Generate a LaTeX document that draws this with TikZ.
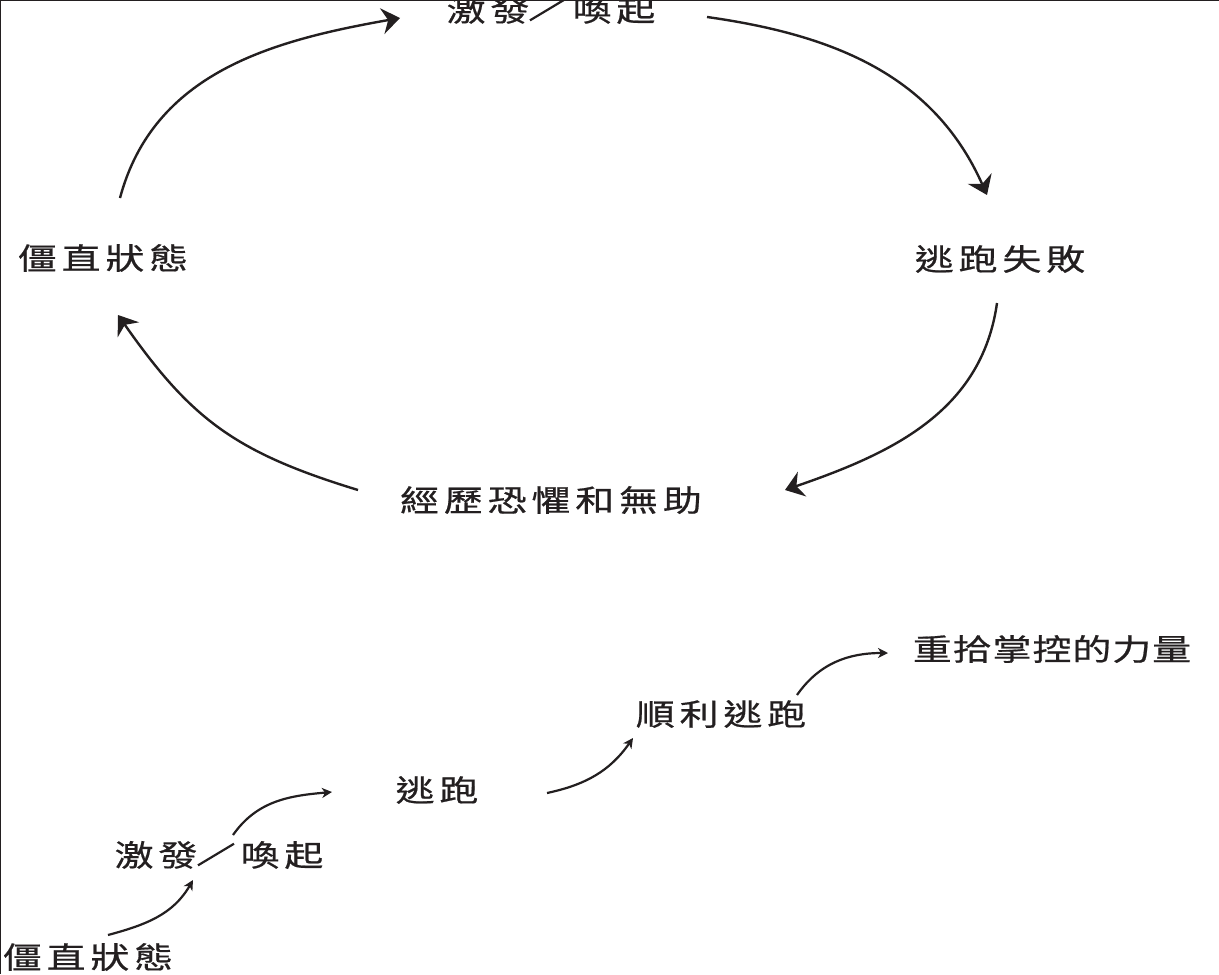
\documentclass[tikz,border=0pt]{standalone}
\usepackage{fontspec}
\usepackage{graphicx}
\usetikzlibrary{arrows.meta}
\newfontfamily\cjk[FakeStretch=1.3,FakeBold=0.6,LetterSpace=16]{Noto Sans CJK TC}
\newfontfamily\cjktight[FakeStretch=1.3,FakeBold=0.6,LetterSpace=3]{Noto Sans CJK TC}
\definecolor{ink}{HTML}{231F20}
\newcommand{\slashmark}{\rotatebox{31}{\rule{21pt}{1.1pt}}\hspace{3pt}}

\begin{document}
\begin{tikzpicture}[x=0.5pt,y=-0.5pt,
  word/.style={font=\cjk\fontsize{15pt}{17pt}\selectfont,text=ink,inner sep=0pt},
  cycarr/.style={draw=ink,line width=1.2pt,-{Stealth[length=9pt,width=13pt,inset=3pt]}},
  stairarr/.style={draw=ink,line width=1.1pt,-{Stealth[length=5pt,width=5pt,inset=1.5pt]}}]
  \useasboundingbox (0,0) rectangle (1219,974);
  \fill[white] (0,0) rectangle (1219,974);
  \draw[ink,line width=1pt] (0,974) -- (0,0) -- (1219,0);

  % The cycle
  \node[word] (exciteT) at (551,10) {激發\slashmark 喚起};
  \node[word] (failA) at (1000,259) {逃跑失敗};
  \node[word] (fearA) at (551,500) {經歷恐懼和無助};
  \node[word] (stiffA) at (103,258) {僵直狀態};

  \draw[cycarr] ([shift={(17,-60)}]stiffA.center) to[out=75,in=190] ([shift={(-151,8)}]exciteT.center);
  \draw[cycarr] ([shift={(156,7)}]exciteT.center) to[out=-8,in=114] ([shift={(-13,-64)}]failA.center);
  \draw[cycarr] ([shift={(-3,44)}]failA.center) to[out=-98,in=19] ([shift={(234,-10)}]fearA.center);
  \draw[cycarr] ([shift={(-193,-10)}]fearA.center) to[out=163,in=-55,looseness=1.1] ([shift={(15,57)}]stiffA.center);

  % The way out
  \node[word] (stiffB) at (88,957) {僵直狀態};
  \node[word] (exciteB) at (219,855) {激發\slashmark 喚起};
  \node[word] (fleeB) at (437,790) {逃跑};
  \node[word] (succB) at (721,714) {順利逃跑};
  \node[word,font=\cjktight\fontsize{15pt}{17pt}\selectfont] (regainB) at (1052,649) {重拾掌控的力量};

  \draw[stairarr] ([shift={(20,-22)}]stiffB.center) to[out=15,in=-120] ([shift={(-26,25)}]exciteB.center);
  \draw[stairarr] ([shift={(14,-20)}]exciteB.center) to[out=55,in=185] ([shift={(-105,2)}]fleeB.center);
  \draw[stairarr] ([shift={(110,3)}]fleeB.center) to[out=12,in=-125] ([shift={(-88,24)}]succB.center);
  \draw[stairarr] ([shift={(76,-19)}]succB.center) to[out=55,in=180] ([shift={(-164,4)}]regainB.center);
\end{tikzpicture}
\end{document}
